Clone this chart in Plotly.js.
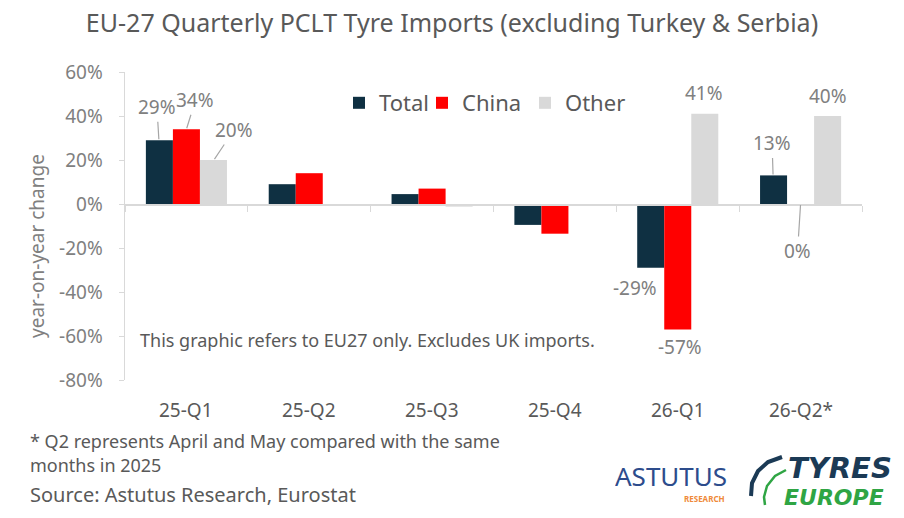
<!DOCTYPE html>
<html>
<head>
<meta charset="utf-8">
<script src="https://cdn.plot.ly/plotly-3.0.1.min.js"></script>
<style>
  html, body { margin: 0; padding: 0; background: #fff; }
  #chart { width: 904px; height: 518px; }
</style>
</head>
<body>
<div id="chart"></div>
<script>
// data
const quarters = ['25-Q1', '25-Q2', '25-Q3', '25-Q4', '26-Q1', '26-Q2*'];
const totalChg = [29, 9, 4.5, -9.5, -29, 13];
const chinaChg = [34, 14, 7, -13.5, -57, 0];
const otherChg = [20, -0.8, -1.2, 0, 41, 40];
const yTicks = [60, 40, 20, 0, -20, -40, -60, -80];

const FONT = 'Noto Sans, Open Sans, sans-serif';
const LOGO_FONT = 'DejaVu Sans, sans-serif';
const GREY = '#595959';
const LABEL = '#808080';

// plot area in pixels (used for paper coordinates of loose text)
const L = 125, R = 862, T = 72, B = 380;
const px = x => (x - L) / (R - L);
const py = y => (B - y) / (B - T);

const series = [
    { name: 'Total', values: totalChg, color: '#0f3042', lw: 38 },
    { name: 'China', values: chinaChg, color: '#ff0000', lw: 58 },
    { name: 'Other', values: otherChg, color: '#d9d9d9', lw: 60 }
];

const traces = series.map(s => ({
    type: 'bar', name: s.name, x: quarters, y: s.values,
    marker: { color: s.color, line: { width: 0 } },
    legendwidth: s.lw,
    hoverinfo: 'skip'
}));

// data labels: [category, series, dx, dy, leader line]
const BAR = 27.5;
const labelSpec = [
    [0, 0, -2, -33, true],
    [0, 1, 9, -29, true],
    [0, 2, 20, -30, true],
    [4, 0, -15, 20, false],
    [4, 1, 2, 18, false],
    [4, 2, -1, -21, false],
    [5, 0, -1, -32, true],
    [5, 1, -3, 47, true],
    [5, 2, 0, -20, false]
];
const dataLabels = labelSpec.map(([c, s, dx, dy, line]) => {
    const v = series[s].values[c];
    const a = {
        xref: 'x', yref: 'y', x: quarters[c], y: v,
        text: Math.round(v) + '%',
        font: { family: FONT, size: 19, color: LABEL }
    };
    if (line) {
        return Object.assign(a, {
            xshift: (s - 1) * BAR, showarrow: true, arrowhead: 0, arrowwidth: 1.2,
            arrowcolor: '#a6a6a6', standoff: 1, ax: dx, ay: dy
        });
    }
    return Object.assign(a, {
        showarrow: false, xanchor: 'center', yanchor: 'middle',
        xshift: (s - 1) * BAR + dx, yshift: -dy
    });
});

// category labels sit below the plot, axis itself crosses at zero
const catLabels = quarters.map(q => ({
    xref: 'x', yref: 'paper', x: q, y: py(410), showarrow: false,
    text: q, font: { family: FONT, size: 19, color: GREY },
    xanchor: 'center', yanchor: 'middle'
}));

const textBits = [
    { x: px(37), y: py(246), text: 'year-on-year change', size: 19, color: LABEL, xanchor: 'center', angle: -90 },
    { x: px(367), y: py(340), text: 'This graphic refers to EU27 only. Excludes UK imports.', size: 18, color: GREY, xanchor: 'center' },
    { x: px(28), y: py(441), text: '* Q2 represents April and May compared with the same', size: 18, color: GREY, xanchor: 'left' },
    { x: px(28), y: py(465), text: 'months in 2025', size: 18, color: GREY, xanchor: 'left' },
    { x: px(28), y: py(494), text: 'Source: Astutus Research, Eurostat', size: 20, color: GREY, xanchor: 'left' },
    { x: px(671), y: py(476), text: 'ASTUTUS', size: 26, color: '#2d4c8c', xanchor: 'center', h: 26 },
    { x: px(704), y: py(498), text: '<b>RESEARCH</b>', size: 8, color: '#ef8a3a', xanchor: 'center', h: 9 },
    { x: px(840), y: py(468), text: '<b><i>TYRES</i></b>', size: 29, color: '#1b3a55', xanchor: 'center', font: LOGO_FONT, h: 25 },
    { x: px(834), y: py(497), text: '<b><i>EUROPE</i></b>', size: 22, color: '#2fa544', xanchor: 'center', font: LOGO_FONT, h: 20 }
].map(t => {
    const a = {
        xref: 'paper', yref: 'paper', x: t.x, y: t.y, text: t.text, showarrow: false,
        xanchor: t.xanchor, yanchor: 'middle', textangle: t.angle || 0,
        font: { family: t.font || FONT, size: t.size, color: t.color }
    };
    if (t.h) a.height = t.h;
    return a;
});

// logo swoosh (decoration only)
const arc = (pts) => 'M ' + pts.map(p => px(p[0]) + ',' + py(p[1])).join(' L ');
const swoosh = [
    { d: arc([[782, 457], [768, 462], [758, 471], [752, 483], [751, 496]]), color: '#1b3a55', w: 4 },
    { d: arc([[786, 470], [775, 476], [767, 486], [764, 497], [765, 505]]), color: '#2fa544', w: 2.5 }
].map(s => ({
    type: 'path', xref: 'paper', yref: 'paper', path: s.d,
    line: { color: s.color, width: s.w }
}));

const zeroPos = (0 - (-80)) / (60 - (-80));

const layout = {
    width: 904, height: 518,
    margin: { l: L, r: 904 - R, t: T, b: 518 - B },
    paper_bgcolor: '#fff', plot_bgcolor: '#fff',
    font: { family: FONT, color: GREY },
    title: {
        text: 'EU-27 Quarterly PCLT Tyre Imports (excluding Turkey & Serbia)',
        x: 0.5, xanchor: 'center', y: 1 - 23 / 518, yanchor: 'middle',
        font: { family: FONT, size: 25, color: GREY }
    },
    barmode: 'group', bargap: 0.34, bargroupgap: 0,
    showlegend: true,
    legend: {
        orientation: 'h', x: px(339), y: py(82), xanchor: 'left', yanchor: 'top',
        font: { family: FONT, size: 22, color: GREY }, itemwidth: 30,
        bgcolor: 'rgba(0,0,0,0)', traceorder: 'normal'
    },
    xaxis: {
        type: 'category', anchor: 'free', position: zeroPos,
        showline: true, linecolor: '#d9d9d9', linewidth: 1.5,
        ticks: 'outside', tickson: 'boundaries', ticklen: 6, tickcolor: '#d9d9d9',
        showticklabels: false, showgrid: false, zeroline: false, fixedrange: true
    },
    yaxis: {
        range: [-80, 60], tickmode: 'array', tickvals: yTicks,
        ticktext: yTicks.map(v => v + '%'),
        showline: true, linecolor: '#d9d9d9', linewidth: 1.5,
        ticks: 'outside', ticklen: 5, tickcolor: '#d9d9d9', ticklabelstandoff: 12,
        showgrid: false, zeroline: false,
        tickfont: { family: FONT, size: 19, color: LABEL }
    },
    shapes: swoosh,
    annotations: dataLabels.concat(catLabels, textBits)
};

Plotly.newPlot('chart', traces, layout, { displayModeBar: false, staticPlot: true });
</script>
</body>
</html>
